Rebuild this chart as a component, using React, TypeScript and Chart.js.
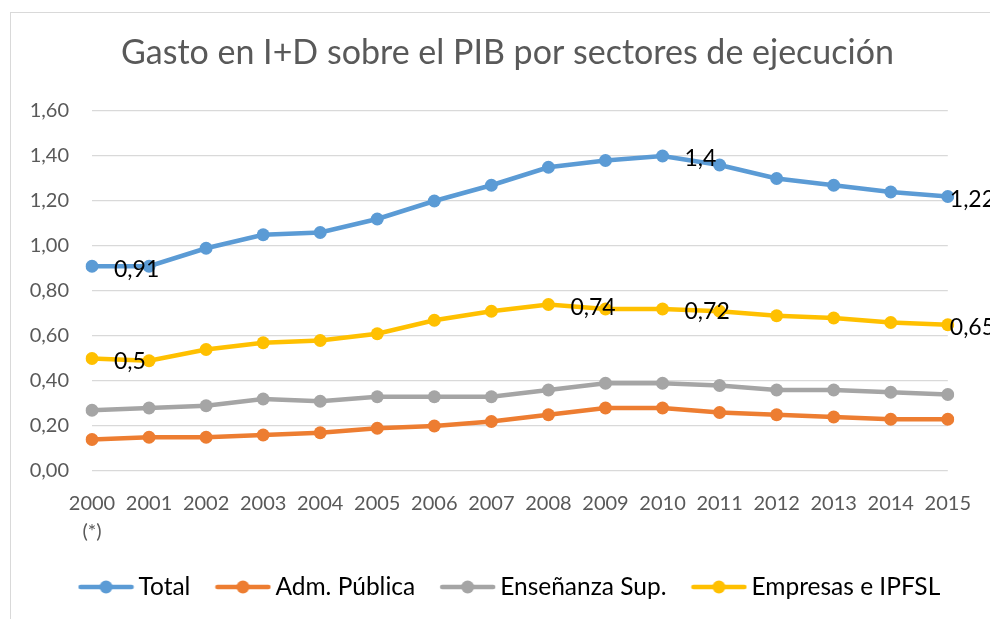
import React, { useEffect, useRef } from "react";
import { Chart, registerables } from "chart.js";

Chart.register(...registerables);

const FONT = "Lato";

const chartTitle = "Gasto en I+D sobre el PIB por sectores de ejecución";
const years: (string | string[])[] = [
  ["2000", "(*)"], "2001", "2002", "2003", "2004", "2005", "2006", "2007",
  "2008", "2009", "2010", "2011", "2012", "2013", "2014", "2015",
];
const seriesNames = ["Total", "Adm. Pública", "Enseñanza Sup.", "Empresas e IPFSL"];
const seriesColors = ["#5B9BD5", "#ED7D31", "#A5A5A5", "#FFC000"];

const total = [0.91, 0.91, 0.99, 1.05, 1.06, 1.12, 1.2, 1.27, 1.35, 1.38, 1.4, 1.36, 1.3, 1.27, 1.24, 1.22];
const admPublica = [0.14, 0.15, 0.15, 0.16, 0.17, 0.19, 0.2, 0.22, 0.25, 0.28, 0.28, 0.26, 0.25, 0.24, 0.23, 0.23];
const ensenanzaSup = [0.27, 0.28, 0.29, 0.32, 0.31, 0.33, 0.33, 0.33, 0.36, 0.39, 0.39, 0.38, 0.36, 0.36, 0.35, 0.34];
const empresas = [0.5, 0.49, 0.54, 0.57, 0.58, 0.61, 0.67, 0.71, 0.74, 0.72, 0.72, 0.71, 0.69, 0.68, 0.66, 0.65];

const totalLabelIdx = [0, 10, 15];
const empresasLabelIdx = [0, 8, 10, 15];

const yMin = 0;
const yMax = 1.6;
const yStep = 0.2;

function legendMarker(color: string): HTMLCanvasElement {
  const c = document.createElement("canvas");
  c.width = 57;
  c.height = 16;
  const ctx = c.getContext("2d")!;
  ctx.strokeStyle = color;
  ctx.lineWidth = 4.5;
  ctx.lineCap = "round";
  ctx.beginPath();
  ctx.moveTo(3, 8);
  ctx.lineTo(54, 8);
  ctx.stroke();
  ctx.fillStyle = color;
  ctx.beginPath();
  ctx.arc(28.5, 8, 6.5, 0, Math.PI * 2);
  ctx.fill();
  return c;
}

const dataLabelPlugin = {
  id: "dataLabels",
  afterDatasetsDraw(chart: any) {
    const ctx = chart.ctx;
    const right = chart.chartArea.right;
    ctx.save();
    ctx.font = `23px ${FONT}`;
    ctx.fillStyle = "#000000";
    ctx.textAlign = "left";
    ctx.textBaseline = "middle";
    chart.data.datasets.forEach((ds: any, di: number) => {
      const idx: number[] = ds.labelIdx || [];
      const meta = chart.getDatasetMeta(di);
      idx.forEach((i) => {
        const pt = meta.data[i];
        const txt = String(ds.data[i]).replace(".", ",");
        const x = Math.min(pt.x + 22, right + 2);
        ctx.fillText(txt, x, pt.y + 3);
      });
    });
    ctx.restore();
  },
};

// Shift title and legend blocks horizontally so they are centred as in the reference.
const boxShiftPlugin = {
  id: "boxShift",
  afterLayout(chart: any) {
    const t = chart.titleBlock;
    if (t) {
      t.left += 32.5;
      t.right += 32.5;
    }
    const l = chart.legend;
    if (l) {
      l.left += 38;
      l.right += 38;
      l.top -= 8.5;
      l.bottom -= 8.5;
    }
  },
};

export default function App() {
  const ref = useRef<HTMLCanvasElement>(null);

  useEffect(() => {
    const values = [total, admPublica, ensenanzaSup, empresas];
    const labelIdx = [totalLabelIdx, [], [], empresasLabelIdx];
    const markers = seriesColors.map(legendMarker);
    const chart = new Chart(ref.current!, {
      type: "line",
      data: {
        labels: years,
        datasets: values.map((v, i) => ({
          label: seriesNames[i],
          data: v,
          borderColor: seriesColors[i],
          backgroundColor: seriesColors[i],
          borderWidth: 4.5,
          pointRadius: 6.5,
          pointBorderWidth: 0,
          pointBackgroundColor: seriesColors[i],
          pointStyle: "circle",
          tension: 0,
          labelIdx: labelIdx[i],
        })) as any,
      },
      options: {
        animation: false,
        responsive: false,
        maintainAspectRatio: false,
        layout: { padding: { left: 0, right: 40, top: 0, bottom: 1.25 } },
        plugins: {
          title: {
            display: true,
            text: chartTitle,
            color: "#595959",
            font: { family: FONT, size: 34, weight: "normal", lineHeight: 1.2 },
            padding: { top: 32.6, bottom: 37.6 },
          },
          legend: {
            position: "bottom",
            labels: {
              usePointStyle: true,
              pointStyleWidth: 40.5,
              padding: 32.25,
              color: "#000000",
              font: { family: FONT, size: 24.5 },
              generateLabels: (ch: any) =>
                ch.data.datasets.map((ds: any, i: number) => ({
                  text: ds.label,
                  fillStyle: ds.borderColor,
                  strokeStyle: ds.borderColor,
                  pointStyle: markers[i],
                  lineWidth: 0,
                  hidden: false,
                  datasetIndex: i,
                  fontColor: "#000000",
                })),
            },
          },
          tooltip: { enabled: false },
        },
        scales: {
          x: {
            offset: false,
            grid: { display: false, drawTicks: false },
            border: { display: false },
            ticks: {
              color: "#595959",
              font: { family: FONT, size: 20, lineHeight: 1.4 },
              padding: 19,
              maxRotation: 0,
              autoSkip: false,
            },
            afterFit: (s: any) => {
              s.height = 80;
            },
          },
          y: {
            min: yMin,
            max: yMax,
            grid: { color: "#D9D9D9", lineWidth: 1.3, drawTicks: false },
            border: { display: false },
            ticks: {
              stepSize: yStep,
              color: "#595959",
              font: { family: FONT, size: 20 },
              padding: 23,
              callback: (v: any) => Number(v).toFixed(2).replace(".", ","),
            },
            afterFit: (s: any) => {
              s.width = 92;
            },
          },
        },
      },
      plugins: [dataLabelPlugin, boxShiftPlugin],
    });
    return () => chart.destroy();
  }, []);

  return (
    <div style={{ position: "fixed", left: 0, top: 0, width: 990, height: 619, background: "#fff", overflow: "hidden" }}>
      <div
        style={{
          position: "absolute",
          left: 10,
          top: 12,
          width: 1000,
          height: 700,
          border: "1.5px solid #D9D9D9",
          boxSizing: "border-box",
        }}
      />
      <canvas ref={ref} width={990} height={619} style={{ position: "absolute", left: 0, top: 0, width: 990, height: 619 }} />
    </div>
  );
}
